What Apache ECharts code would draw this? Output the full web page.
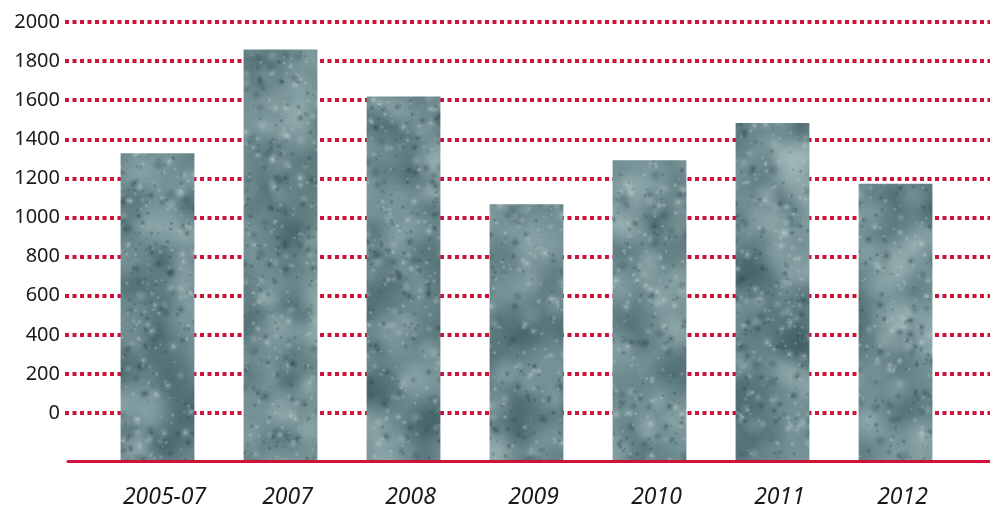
<!DOCTYPE html>
<html>
<head>
<meta charset="utf-8">
<script src="https://cdn.jsdelivr.net/npm/echarts@6/dist/echarts.min.js"></script>
<style>
  html, body { margin: 0; padding: 0; background: #ffffff; }
  #chart { width: 990px; height: 509px; }
</style>
</head>
<body>
<div id="chart"></div>
<script>
// Categories and values
const categories = ['2005-07', '2007', '2008', '2009', '2010', '2011', '2012'];
const values = [1330, 1860, 1620, 1070, 1295, 1485, 1175];
// Scale ticks shown on the left
const tickValues = [0, 200, 400, 600, 800, 1000, 1200, 1400, 1600, 1800, 2000];
// Bars stand on a plinth that sits below the zero line
const FLOOR = -240;
const Y_MAX = 2000;

// Mottled stone texture used as the bar fill (seeded so it is stable)
function makeStoneTexture(w, h) {
  const c = document.createElement('canvas');
  c.width = w; c.height = h;
  const g = c.getContext('2d');
  g.fillStyle = '#749195';
  g.fillRect(0, 0, w, h);
  let s = 24681;
  const rnd = () => { s = (s * 1103515245 + 12345) & 0x7fffffff; return s / 0x7fffffff; };
  const blob = (r, col, a) => {
    const x = rnd() * w, y = rnd() * h;
    const gr = g.createRadialGradient(x, y, 0, x, y, r);
    gr.addColorStop(0, 'rgba(' + col + ',' + a + ')');
    gr.addColorStop(1, 'rgba(' + col + ',0)');
    g.fillStyle = gr;
    g.beginPath(); g.arc(x, y, r, 0, Math.PI * 2); g.fill();
  };
  const n = w * h / 1000;
  for (let i = 0; i < n * 1.0; i++) blob(14 + rnd() * 28, '44,74,80', 0.28);
  for (let i = 0; i < n * 1.0; i++) blob(10 + rnd() * 22, '180,202,204', 0.28);
  for (let i = 0; i < n * 6; i++) blob(2 + rnd() * 5, rnd() < 0.5 ? '38,64,70' : '196,212,214', 0.3);
  for (let i = 0; i < n * 10; i++) blob(1 + rnd() * 2, rnd() < 0.5 ? '38,64,70' : '205,220,222', 0.35);
  return c;
}
const stone = { image: makeStoneTexture(990, 509), repeat: 'repeat' };

const chart = echarts.init(document.getElementById('chart'), null, { renderer: 'canvas' });

const option = {
  backgroundColor: '#ffffff',
  animation: false,
  grid: [
    // scale and dotted guide lines
    { left: 65, right: 0, top: 22, bottom: 96 },
    // solid base line
    { left: 68, right: 0, top: 22, bottom: 48 },
    // bars
    { left: 96, right: 33, top: 22, bottom: 48 }
  ],
  xAxis: [
    { gridIndex: 0, type: 'value', min: 0, max: 1, show: false },
    {
      gridIndex: 1, type: 'value', min: 0, max: 1,
      axisLine: { show: true, onZero: false, lineStyle: { color: '#d0123a', width: 3 } },
      axisTick: { show: false }, axisLabel: { show: false }, splitLine: { show: false },
      z: 10
    },
    {
      gridIndex: 2, type: 'category', data: categories,
      axisLine: { show: false }, axisTick: { show: false },
      axisLabel: {
        margin: 25, color: '#1a1a1a', fontSize: 23, fontStyle: 'italic',
        fontFamily: 'Noto Sans', padding: [0, 0, 0, 14]
      }
    }
  ],
  yAxis: [
    {
      gridIndex: 0, type: 'value', min: tickValues[0], max: tickValues[tickValues.length - 1],
      interval: tickValues[1] - tickValues[0],
      axisLine: { show: false }, axisTick: { show: false },
      axisLabel: {
        margin: 5, color: '#1a1a1a', fontSize: 20, fontFamily: 'Noto Sans',
        formatter: v => String(v)
      },
      splitLine: { show: true, lineStyle: { color: '#cc1238', width: 4, type: [4, 3.5] } }
    },
    { gridIndex: 1, type: 'value', min: FLOOR, max: Y_MAX, show: false },
    { gridIndex: 2, type: 'value', min: FLOOR, max: Y_MAX, show: false }
  ],
  series: [{
    type: 'custom',
    xAxisIndex: 2, yAxisIndex: 2,
    encode: { x: 0, y: 1 },
    data: categories.map((c, i) => [c, values[i]]),
    renderItem(params, api) {
      const idx = api.value(0);
      const top = api.coord([idx, api.value(1)]);
      const bottom = api.coord([idx, FLOOR]);
      const w = api.size([1, 0])[0] * 0.6;
      return {
        type: 'rect',
        shape: { x: top[0] - w / 2, y: top[1], width: w, height: bottom[1] - top[1] },
        style: { fill: stone }
      };
    },
    z: 2
  }]
};

chart.setOption(option);
</script>
</body>
</html>
